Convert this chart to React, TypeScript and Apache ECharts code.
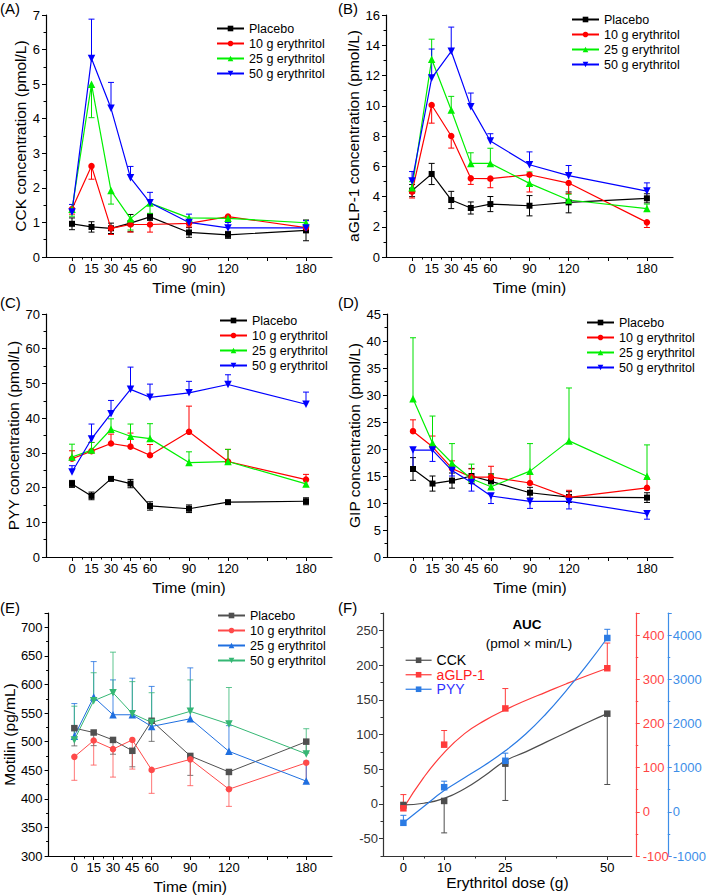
import React, { useEffect, useRef } from 'react';
import * as echarts from 'echarts';

const FONT = "'Liberation Sans', Arial, Helvetica, sans-serif";

// ---------- shared categories / ticks ----------
const TIME = [0, 15, 30, 45, 60, 90, 120, 180];
const TIME_LABELS = [0, 15, 30, 45, 60, 90, 120, 180];
const TIME_MAJOR_TICKS = [0, 15, 30, 45, 60, 90, 120, 150, 180];
const TIME_MINOR_TICKS = [7.5, 22.5, 37.5, 52.5, 75, 105, 135, 165];
const GROUPS = ['Placebo', '10 g erythritol', '25 g erythritol', '50 g erythritol'];

// ---------- (A) CCK ----------
const CCK_PLA = [0.96, 0.87, 0.83, 0.98, 1.16, 0.71, 0.64, 0.77];
const CCK_PLA_ERR = [0.17, 0.15, 0.15, 0.25, 0.1, 0.14, 0.1, 0.3];
const CCK_10 = [1.39, 2.63, 0.83, 0.94, 0.94, 0.97, 1.17, 0.85];
const CCK_10_ERR = [0.15, 0.38, 0.18, 0.22, 0.22, 0.1, 0.1, 0.1];
const CCK_25 = [1.38, 5.0, 1.92, 1.11, 1.56, 1.13, 1.12, 0.99];
const CCK_25_ERR = [0.2, 0.97, 0.39, 0.33, 0.3, 0.12, 0.12, 0.1];
const CCK_50 = [1.3, 5.74, 4.3, 2.29, 1.57, 1.0, 0.84, 0.84];
const CCK_50_ERR = [0.22, 1.14, 0.75, 0.33, 0.3, 0.24, 0.16, 0.21];

// ---------- (B) aGLP-1 ----------
const GLP_PLA = [4.39, 5.49, 3.77, 3.24, 3.5, 3.39, 3.61, 3.88];
const GLP_PLA_ERR = [0.4, 0.7, 0.57, 0.4, 0.5, 0.67, 0.69, 0.3];
const GLP_10 = [4.32, 10.05, 8.0, 5.2, 5.18, 5.44, 4.89, 2.29];
const GLP_10_ERR = [0.42, 1.2, 0.8, 0.4, 0.6, 1.14, 0.7, 0.34];
const GLP_25 = [4.58, 13.07, 9.72, 6.19, 6.19, 4.87, 3.77, 3.2];
const GLP_25_ERR = [0.4, 1.33, 0.9, 0.7, 1.0, 0.75, 0.38, 0.3];
const GLP_50 = [5.02, 11.83, 13.6, 9.94, 7.67, 6.1, 5.38, 4.36];
const GLP_50_ERR = [0.63, 1.92, 1.6, 0.9, 0.48, 0.85, 0.67, 0.54];

// ---------- (C) PYY ----------
const PYY_PLA = [21.06, 17.6, 22.5, 21.15, 14.7, 13.9, 15.8, 16.06];
const PYY_PLA_ERR = [1.0, 1.1, 0.5, 1.2, 1.2, 1.1, 0.4, 1.0];
const PYY_10 = [28.3, 30.5, 32.7, 31.8, 29.3, 36.06, 27.5, 22.3];
const PYY_10_ERR = [2.3, 2.5, 2.7, 3.9, 3.1, 7.4, 3.5, 1.5];
const PYY_25 = [28.8, 30.8, 36.8, 34.8, 34.1, 27.2, 27.5, 21.06];
const PYY_25_ERR = [3.7, 2.2, 3.0, 3.5, 4.3, 3.1, 3.5, 1.2];
const PYY_50 = [24.5, 34.0, 41.3, 48.3, 46.0, 47.3, 49.7, 44.0];
const PYY_50_ERR = [1.8, 4.3, 3.8, 6.4, 3.8, 3.3, 2.8, 3.5];

// ---------- (D) GIP ----------
const GIP_PLA = [16.3, 13.6, 14.15, 15.0, 14.0, 11.9, 11.1, 11.0];
const GIP_PLA_ERR = [2.1, 1.4, 1.4, 1.4, 1.4, 1.0, 1.0, 0.9];
const GIP_10 = [23.3, 20.4, 16.4, 14.8, 14.8, 13.7, 11.05, 12.8];
const GIP_10_ERR = [2.1, 2.0, 1.4, 1.5, 2.0, 1.6, 1.3, 1.8];
const GIP_25 = [29.3, 21.1, 17.4, 14.5, 13.0, 15.9, 21.5, 14.96];
const GIP_25_ERR = [11.3, 5.0, 3.6, 2.7, 2.3, 5.1, 9.8, 5.8];
const GIP_50 = [19.8, 19.8, 16.0, 13.8, 11.3, 10.3, 10.3, 8.0];
const GIP_50_ERR = [3.5, 2.1, 1.0, 1.6, 1.4, 1.3, 1.4, 1.0];

// ---------- (E) Motilin ----------
const MOT_PLA = [523.6, 516, 503, 484, 536.5, 475, 447, 500];
const MOT_PLA_ERR = [31, 23, 25, 28, 36, 34, 27, 20];
const MOT_10 = [473.4, 502, 487, 503, 450.6, 469, 416.8, 463];
const MOT_10_ERR = [41, 43, 49, 51, 41, 46, 30, 35];
const MOT_25 = [509.6, 578, 547, 547, 526.6, 540, 483, 431];
const MOT_25_ERR = [57, 62, 61, 64, 70, 89, 45, 35];
const MOT_50 = [503, 571.5, 585.5, 549, 533.6, 553, 530.7, 478.6];
const MOT_50_ERR = [59, 49, 71, 56, 52, 55, 64, 44];

// ---------- (F) AUC ----------
const DOSE = [0, 10, 25, 50];
const DOSE_LABELS = [0, 10, 25, 50];
const DOSE_MINOR_TICKS = [5, 17.5, 37.5];
const AUC_NAMES = ['CCK', 'aGLP-1', 'PYY'];
const AUC_CCK = [-1.5, 4.3, 58, 130];
const AUC_CCK_ERR = [5, 46, 53, 102];
const AUC_GLP = [8, 152, 234, 325];
const AUC_GLP_ERR = [31, 32, 45, 57];
const AUC_PYY = [-249, 557, 1155, 3934];
const AUC_PYY_ERR = [170, 136, 173, 197];
// fitted curves
const FIT_DOSE = [0, 5, 10, 15, 20, 25, 30, 35, 40, 45, 50];
const FIT_CCK = [-1.5, 1, 8, 22, 41, 62, 75, 89, 103, 117, 130];
const FIT_GLP = [8, 78, 134, 177, 207, 231, 252, 271, 290, 308, 325];
const FIT_PYY = [-249, 120, 480, 770, 1060, 1380, 1760, 2220, 2750, 3320, 3934];
const LEFT_MAJOR = [-50, 0, 50, 100, 150, 200, 250];
const LEFT_MINOR = [-75, -25, 25, 75, 125, 175, 225, 275];

const SYM_DOWN = 'path://M0,0L10,0L5,8.66Z';

const STYLE_STD = [
  { color: '#000000', err: '#000000', symbol: 'rect', size: 6 },
  { color: '#ff0000', err: '#ff0000', symbol: 'circle', size: 6.5 },
  { color: '#00f000', err: '#00e000', symbol: 'triangle', size: 7.5 },
  { color: '#0000ff', err: '#0000ff', symbol: SYM_DOWN, size: 7.5 },
];
const STYLE_E = [
  { color: '#505050', err: 'rgba(80,80,80,0.75)', symbol: 'rect', size: 6.5 },
  { color: '#ff4a4a', err: 'rgba(255,74,74,0.75)', symbol: 'circle', size: 6.5 },
  { color: '#1f6fe0', err: 'rgba(31,111,224,0.8)', symbol: 'triangle', size: 7.5 },
  { color: '#35b774', err: 'rgba(53,183,116,0.8)', symbol: SYM_DOWN, size: 7.5 },
];

type PanelDef = {
  key: string;
  grid: number[];
  y: number[];
  yName: string;
  yGap: number;
  legend: number[];
  styles: any[];
  lineWidth: number;
  data: [number[], number[], string][];
};

const PANELS: PanelDef[] = [
  {
    key: 'A', grid: [46, 15, 286, 242], y: [0, 7, 1], yName: 'CCK concentration (pmol/L)', yGap: 13,
    legend: [216, 21], styles: STYLE_STD, lineWidth: 1.2,
    data: [[CCK_PLA, CCK_PLA_ERR, 'both'], [CCK_10, CCK_10_ERR, 'down'], [CCK_25, CCK_25_ERR, 'down'], [CCK_50, CCK_50_ERR, 'up']],
  },
  {
    key: 'B', grid: [386, 15, 287, 242], y: [0, 16, 2], yName: 'aGLP-1 concentration (pmol/L)', yGap: 18,
    legend: [571, 12], styles: STYLE_STD, lineWidth: 1.2,
    data: [[GLP_PLA, GLP_PLA_ERR, 'both'], [GLP_10, GLP_10_ERR, 'down'], [GLP_25, GLP_25_ERR, 'up'], [GLP_50, GLP_50_ERR, 'up']],
  },
  {
    key: 'C', grid: [46, 314, 286, 243], y: [0, 70, 10], yName: 'PYY concentration (pmol/L)', yGap: 19,
    legend: [219, 313], styles: STYLE_STD, lineWidth: 1.2,
    data: [[PYY_PLA, PYY_PLA_ERR, 'both'], [PYY_10, PYY_10_ERR, 'up'], [PYY_25, PYY_25_ERR, 'up'], [PYY_50, PYY_50_ERR, 'up']],
  },
  {
    key: 'D', grid: [387, 314, 286, 243], y: [0, 45, 5], yName: 'GIP concentration (pmol/L)', yGap: 18,
    legend: [586, 315], styles: STYLE_STD, lineWidth: 1.2,
    data: [[GIP_PLA, GIP_PLA_ERR, 'both'], [GIP_10, GIP_10_ERR, 'up'], [GIP_25, GIP_25_ERR, 'up'], [GIP_50, GIP_50_ERR, 'down']],
  },
  {
    key: 'E', grid: [46, 613, 286, 243], y: [300, 725, 50], yName: 'Motilin (pg/mL)', yGap: 25,
    legend: [217, 608], styles: STYLE_E, lineWidth: 1,
    data: [[MOT_PLA, MOT_PLA_ERR, 'down'], [MOT_10, MOT_10_ERR, 'down'], [MOT_25, MOT_25_ERR, 'up'], [MOT_50, MOT_50_ERR, 'up']],
  },
];

function errorBars(name: string, xIdx: number, yIdx: number, xs: number[], ys: number[], errs: number[], dir: string, color: string) {
  const data = xs.map((x, i) => [
    x,
    dir === 'up' ? ys[i] : ys[i] - errs[i],
    dir === 'down' ? ys[i] : ys[i] + errs[i],
  ]);
  return {
    type: 'custom',
    name,
    xAxisIndex: xIdx,
    yAxisIndex: yIdx,
    silent: true,
    z: 1,
    data,
    encode: { x: 0, y: [1, 2] },
    renderItem: (_p: any, api: any) => {
      const x = api.value(0);
      const lo = api.coord([x, api.value(1)]);
      const hi = api.coord([x, api.value(2)]);
      const st = { stroke: color, lineWidth: 1 };
      const cap = 3;
      const children: any[] = [
        { type: 'line', shape: { x1: lo[0], y1: lo[1], x2: hi[0], y2: hi[1] }, style: st },
      ];
      if (dir !== 'up') children.push({ type: 'line', shape: { x1: lo[0] - cap, y1: lo[1], x2: lo[0] + cap, y2: lo[1] }, style: st });
      if (dir !== 'down') children.push({ type: 'line', shape: { x1: hi[0] - cap, y1: hi[1], x2: hi[0] + cap, y2: hi[1] }, style: st });
      return { type: 'group', children };
    },
  };
}

const TXT = { fontFamily: FONT, color: '#000' };
const TITLE_SIZE = 15.5;
const TICK_SIZE = 13;

function buildOption() {
  const grid: any[] = [];
  const xAxis: any[] = [];
  const yAxis: any[] = [];
  const series: any[] = [];
  const legend: any[] = [];

  PANELS.forEach((p, gi) => {
    grid.push({ left: p.grid[0], top: p.grid[1], width: p.grid[2], height: p.grid[3] });
    const xi = xAxis.length;
    xAxis.push({
      type: 'value', gridIndex: gi, min: -20, max: 200, position: 'bottom',
      name: 'Time (min)', nameLocation: 'middle', nameGap: 22,
      nameTextStyle: { ...TXT, fontSize: TITLE_SIZE },
      axisLine: { show: true, onZero: false, lineStyle: { color: '#000', width: 1.2 } },
      axisTick: { show: true, length: 4, customValues: TIME_MAJOR_TICKS, lineStyle: { color: '#000' } },
      axisLabel: { show: true, customValues: TIME_LABELS, ...TXT, fontSize: TICK_SIZE, margin: 5 },
      splitLine: { show: false },
    });
    xAxis.push({
      type: 'value', gridIndex: gi, min: -20, max: 200, position: 'bottom',
      axisLine: { show: false, onZero: false },
      axisTick: { show: true, length: 2.5, customValues: TIME_MINOR_TICKS, lineStyle: { color: '#000' } },
      axisLabel: { show: false },
      splitLine: { show: false },
    });
    const yi = yAxis.length;
    yAxis.push({
      type: 'value', gridIndex: gi, min: p.y[0], max: p.y[1], interval: p.y[2], position: 'left',
      name: p.yName, nameLocation: 'middle', nameRotate: 90, nameGap: p.yGap,
      nameTextStyle: { ...TXT, fontSize: TITLE_SIZE },
      axisLine: { show: true, onZero: false, lineStyle: { color: '#000', width: 1.2 } },
      axisTick: { show: true, length: 4, lineStyle: { color: '#000' } },
      minorTick: { show: true, splitNumber: 2, length: 2.5, lineStyle: { color: '#000' } },
      axisLabel: { ...TXT, fontSize: TICK_SIZE, margin: 6, showMaxLabel: p.key !== 'E' },
      splitLine: { show: false },
    });
    const names: string[] = [];
    p.data.forEach((d, si) => {
      const st = p.styles[si];
      const name = p.key + '|' + GROUPS[si];
      names.push(name);
      series.push(errorBars(p.key + '|err' + si, xi, yi, TIME, d[0], d[1], d[2], st.err));
      series.push({
        type: 'line', name, xAxisIndex: xi, yAxisIndex: yi, z: 3,
        data: TIME.map((t, i) => [t, d[0][i]]),
        symbol: st.symbol, symbolSize: st.size, showSymbol: true,
        lineStyle: { color: st.color, width: p.lineWidth },
        itemStyle: { color: st.color },
        emphasis: { disabled: true },
      });
    });
    legend.push({
      orient: 'vertical', left: p.legend[0], top: p.legend[1], padding: 0,
      itemWidth: 27, itemHeight: 7, itemGap: 0,
      data: names, selectedMode: false,
      formatter: (n: string) => n.split('|')[1],
      textStyle: { ...TXT, fontSize: 12.5, lineHeight: 15 },
    });
  });

  // ---------- Panel F ----------
  const fg = grid.length;
  grid.push({ left: 383, top: 613, width: 254, height: 243 });
  const fx = xAxis.length;
  xAxis.push({
    type: 'value', gridIndex: fg, min: -5, max: 56, position: 'bottom',
    name: 'Erythritol dose (g)', nameLocation: 'middle', nameGap: 15,
    nameTextStyle: { ...TXT, fontSize: TITLE_SIZE },
    axisLine: { show: true, onZero: false, lineStyle: { color: '#333', width: 1.2 } },
    axisTick: { show: true, length: 4, customValues: DOSE_LABELS, lineStyle: { color: '#333' } },
    axisLabel: { show: true, customValues: DOSE_LABELS, ...TXT, fontSize: TICK_SIZE, margin: 5 },
    splitLine: { show: false },
  });
  xAxis.push({
    type: 'value', gridIndex: fg, min: -5, max: 56, position: 'bottom',
    axisLine: { show: false, onZero: false },
    axisTick: { show: true, length: 2.5, customValues: DOSE_MINOR_TICKS, lineStyle: { color: '#333' } },
    axisLabel: { show: false }, splitLine: { show: false },
  });
  const fyL = yAxis.length;
  yAxis.push({
    type: 'value', gridIndex: fg, min: -75, max: 275, interval: 25, position: 'left',
    axisLine: { show: true, onZero: false, lineStyle: { color: '#333', width: 1.2 } },
    axisTick: { show: true, length: 4, customValues: LEFT_MAJOR, lineStyle: { color: '#333' } },
    axisLabel: { customValues: LEFT_MAJOR, fontFamily: FONT, color: '#333', fontSize: TICK_SIZE, margin: 5 },
    splitLine: { show: false },
  });
  yAxis.push({
    type: 'value', gridIndex: fg, min: -75, max: 275, interval: 25, position: 'left',
    axisLine: { show: false, onZero: false },
    axisTick: { show: true, length: 2.5, customValues: LEFT_MINOR, lineStyle: { color: '#333' } },
    axisLabel: { show: false }, splitLine: { show: false },
  });
  const RED = '#ff4545';
  const BLUE = '#3d8ee8';
  const fyR = yAxis.length;
  yAxis.push({
    type: 'value', gridIndex: fg, min: -100, max: 450, interval: 100, position: 'right', offset: 4,
    axisLine: { show: true, onZero: false, lineStyle: { color: RED, width: 1.2 } },
    axisTick: { show: true, length: 4, lineStyle: { color: RED } },
    minorTick: { show: true, splitNumber: 2, length: 2.5, lineStyle: { color: RED } },
    axisLabel: { fontFamily: FONT, color: RED, fontSize: TICK_SIZE, margin: 7, showMaxLabel: false },
    splitLine: { show: false },
  });
  const fyB = yAxis.length;
  yAxis.push({
    type: 'value', gridIndex: fg, min: -1000, max: 4500, interval: 1000, position: 'right', offset: 36,
    axisLine: { show: true, onZero: false, lineStyle: { color: BLUE, width: 1.2 } },
    axisTick: { show: true, length: 4, lineStyle: { color: BLUE } },
    minorTick: { show: true, splitNumber: 2, length: 2.5, lineStyle: { color: BLUE } },
    axisLabel: {
      fontFamily: FONT, color: BLUE, fontSize: TICK_SIZE, margin: 5, showMaxLabel: false,
      formatter: (v: number) => String(v),
    },
    splitLine: { show: false },
  });

  const fDefs = [
    { name: AUC_NAMES[0], vals: AUC_CCK, err: AUC_CCK_ERR, dir: 'down', fit: FIT_CCK, y: fyL, color: '#4d4d4d', text: '#000000' },
    { name: AUC_NAMES[1], vals: AUC_GLP, err: AUC_GLP_ERR, dir: 'up', fit: FIT_GLP, y: fyR, color: '#ff3b3b', text: '#ff2020' },
    { name: AUC_NAMES[2], vals: AUC_PYY, err: AUC_PYY_ERR, dir: 'up', fit: FIT_PYY, y: fyB, color: '#2b7be4', text: '#3030ff' },
  ];
  const fNames: any[] = [];
  fDefs.forEach((d, i) => {
    series.push({
      type: 'line', name: 'F|fit' + i, xAxisIndex: fx, yAxisIndex: d.y, z: 2,
      data: FIT_DOSE.map((x, k) => [x, d.fit[k]]), smooth: 0.5, symbol: 'none', showSymbol: false,
      lineStyle: { color: d.color, width: 1.2 }, emphasis: { disabled: true },
    });
    series.push(errorBars('F|err' + i, fx, d.y, DOSE, d.vals, d.err, d.dir, d.color));
    series.push({
      type: 'line', name: 'F|' + d.name, xAxisIndex: fx, yAxisIndex: d.y, z: 3,
      data: DOSE.map((x, k) => [x, d.vals[k]]), symbol: 'rect', symbolSize: 6.5,
      lineStyle: { color: d.color, width: 1.2, opacity: 0 }, itemStyle: { color: d.color },
      emphasis: { disabled: true },
    });
    fNames.push({ name: 'F|' + d.name, textStyle: { color: d.text }, lineStyle: { opacity: 1, color: d.color, width: 1.2 } });
  });
  legend.push({
    orient: 'vertical', left: 405, top: 653, padding: 0,
    itemWidth: 26, itemHeight: 7, itemGap: 0, selectedMode: false,
    data: fNames,
    formatter: (n: string) => n.split('|')[1],
    textStyle: { fontFamily: FONT, fontSize: 14, lineHeight: 14.5 },
  });

  const label = (t: string, x: number, y: number) => ({
    type: 'text', x, y,
    style: { text: t, fill: '#000', font: `15px ${FONT}`, textAlign: 'left', textVerticalAlign: 'middle', align: 'left', verticalAlign: 'middle' },
  });
  const graphic = [
    label('(A)', 0, 8), label('(B)', 338, 8),
    label('(C)', 0, 302), label('(D)', 338, 302),
    label('(E)', 0, 607), label('(F)', 338, 607),
    {
      type: 'text', x: 527, y: 624,
      style: { text: 'AUC', fill: '#000', font: `bold 13.5px ${FONT}`, textAlign: 'center', textVerticalAlign: 'middle', align: 'center', verticalAlign: 'middle' },
    },
    {
      type: 'text', x: 529, y: 643,
      style: { text: '(pmol × min/L)', fill: '#000', font: `13.5px ${FONT}`, textAlign: 'center', textVerticalAlign: 'middle', align: 'center', verticalAlign: 'middle' },
    },
  ];

  return {
    animation: false,
    backgroundColor: '#ffffff',
    textStyle: { fontFamily: FONT },
    grid, xAxis, yAxis, series, legend, graphic,
  };
}

export default function App() {
  const ref = useRef<HTMLDivElement | null>(null);
  useEffect(() => {
    if (!ref.current) return;
    const chart = echarts.init(ref.current, undefined, { renderer: 'svg' });
    chart.setOption(buildOption() as any);
    return () => chart.dispose();
  }, []);
  return (
    <div
      ref={ref}
      style={{ position: 'fixed', left: 0, top: 0, width: 709, height: 896, background: '#fff' }}
    />
  );
}
